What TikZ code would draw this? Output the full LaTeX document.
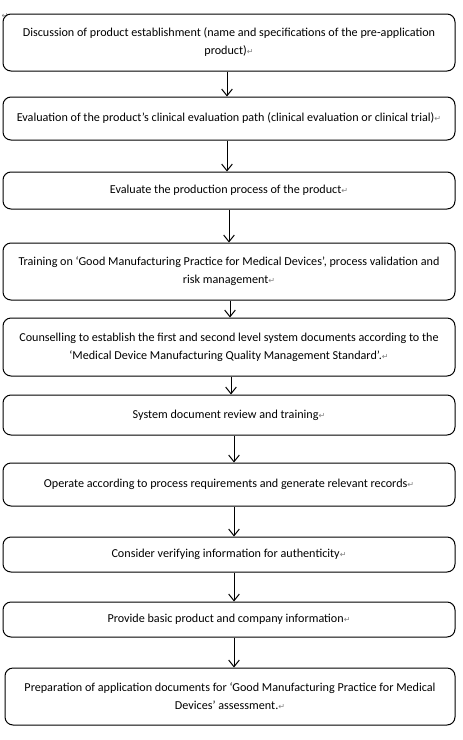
\documentclass[tikz,border=0pt]{standalone}
\usepackage{fontspec}
\setmainfont{Carlito}
\newfontfamily\symf{DejaVu Sans}
\usetikzlibrary{arrows.meta}
\newcommand\retmark{{\symf\fontsize{6}{6}\selectfont\color{gray}↵}}
\begin{document}
\begin{tikzpicture}[x=0.75pt,y=-0.75pt,
  box/.style={draw, line width=0.75pt, rounded corners=6pt, minimum width=339pt, inner sep=0pt, align=center, font=\fontsize{9.1}{13.5}\selectfont},
  arr/.style={draw, line width=0.75pt, -{Straight Barb[length=5pt,width=8pt]}}]
\useasboundingbox (0,0) rectangle (462,740);
\node[font=\symf\fontsize{6}{6}\selectfont, text=gray, inner sep=0pt] (tl) at (5,16) {↵};
\node[box, minimum height=42.75pt] (b1) at (229,42.5) {Discussion of product establishment (name and specifications of the pre-application\\product)\retmark};
\node[box, minimum height=32.25pt] (b2) at (229,118.5) {Evaluation of the product's clinical evaluation path (clinical evaluation or clinical trial)\retmark};
\node[box, minimum height=27.75pt] (b3) at (229,190.5) {Evaluate the production process of the product\retmark};
\node[box, minimum height=42.75pt] (b4) at (229,271.5) {Training on ‘Good Manufacturing Practice for Medical Devices’, process validation and\\risk management\retmark};
\node[box, minimum height=43.5pt] (b5) at (229,347) {Counselling to establish the first and second level system documents according to the\\‘Medical Device Manufacturing Quality Management Standard’.\retmark};
\node[box, minimum height=30pt] (b6) at (229,415) {System document review and training\retmark};
\node[box, minimum height=32.25pt] (b7) at (229,484.5) {Operate according to process requirements and generate relevant records\retmark};
\node[box, minimum height=26.25pt] (b8) at (229,554.5) {Consider verifying information for authenticity\retmark};
\node[box, minimum height=26.25pt] (b9) at (229,619.5) {Provide basic product and company information\retmark};
\node[box, minimum height=42.75pt, minimum width=337.5pt] (b10) at (230,696.5) {Preparation of application documents for ‘Good Manufacturing Practice for Medical\\Devices’ assessment.\retmark};
\draw[arr] ([xshift=-1.5pt]b1.south) -- ([xshift=-1.5pt]b2.north);
\draw[arr] ([xshift=-1.5pt]b2.south) -- ([xshift=-1.5pt]b3.north);
\draw[arr] (b3.south) -- (b4.north);
\draw[arr] ([xshift=0.75pt]b4.south) -- ([xshift=0.75pt]b5.north);
\draw[arr] ([xshift=1.5pt]b5.south) -- ([xshift=1.5pt]b6.north);
\draw[arr] ([xshift=3.75pt]b6.south) -- ([xshift=3.75pt]b7.north);
\draw[arr] ([xshift=3.75pt]b7.south) -- ([xshift=3.75pt]b8.north);
\draw[arr] ([xshift=3.75pt]b8.south) -- ([xshift=3.75pt]b9.north);
\draw[arr] ([xshift=3.75pt]b9.south) -- ([xshift=3pt]b10.north);
\end{tikzpicture}
\end{document}
